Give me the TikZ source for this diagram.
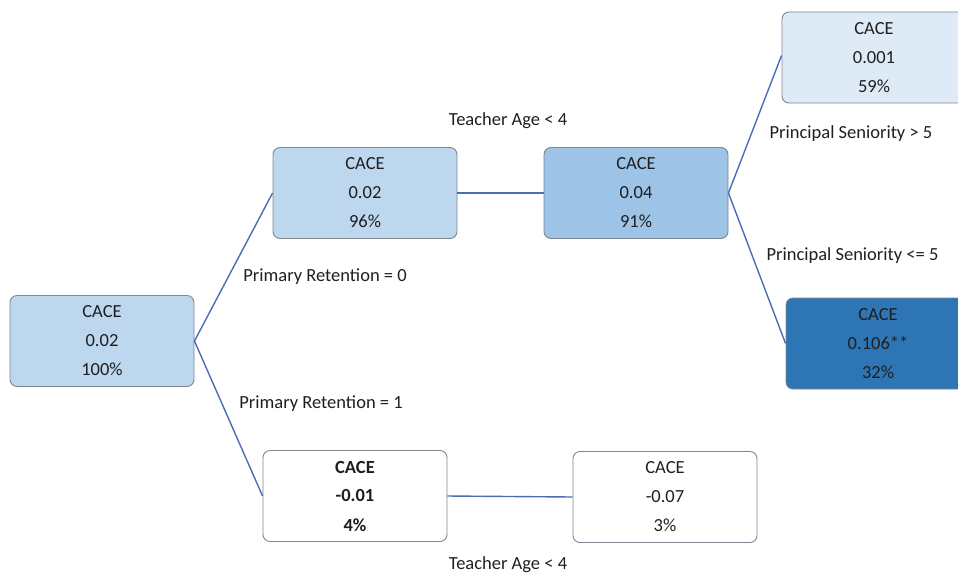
\documentclass[tikz,border=0pt]{standalone}
\usepackage{fontspec}
\setmainfont{Carlito}
\definecolor{txt}{HTML}{1F1F1F}
\definecolor{edgeblue}{HTML}{4A6DB5}
\definecolor{boxline}{HTML}{7F8590}
\definecolor{fillA}{HTML}{BDD7EE}
\definecolor{fillB}{HTML}{9DC3E6}
\definecolor{fillC}{HTML}{DEEBF7}
\definecolor{fillD}{HTML}{2E75B6}
\begin{document}
\begin{tikzpicture}[x=1pt,y=-1pt,
  box/.style={draw=boxline, line width=0.9pt, rounded corners=7pt, minimum width=184pt,
    minimum height=91pt, text=txt, align=center, font=\fontsize{18.5}{29}\selectfont, inner sep=0pt},
  lab/.style={text=txt, font=\fontsize{18.5}{20}\selectfont, inner sep=0pt},
  conn/.style={draw=edgeblue, line width=1.4pt}]
\useasboundingbox (0,0) rectangle (958,574);
\clip (0,0) rectangle (958,574);
\node[box, fill=fillA] (root) at (102,341) {CACE\\0.02\\100\%};
\node[box, fill=fillA] (n1) at (365,193) {CACE\\0.02\\96\%};
\node[box, fill=fillB] (n2) at (636,193) {CACE\\0.04\\91\%};
\node[box, fill=fillC] (n3) at (874,57.5) {CACE\\0.001\\59\%};
\node[box, fill=fillD] (n4) at (878,343.5) {CACE\\0.106**\\32\%};
\node[box, fill=white, font=\fontsize{18.5}{29}\selectfont\bfseries] (n5) at (355,496) {CACE\\-0.01\\4\%};
\node[box, fill=white] (n6) at (665,497) {CACE\\-0.07\\3\%};
\draw[conn] (root.east) -- (n1.west);
\draw[conn] (root.east) -- (n5.west);
\draw[conn] (n1.east) -- (n2.west);
\draw[conn] (n2.east) -- ([yshift=2pt]n3.west);
\draw[conn] (n2.east) -- (n4.west);
\draw[conn] (n5.east) -- (n6.west);
\node[lab] (l1) at (508,121) {Teacher Age < 4};
\node[lab] (l2) at (325,277) {Primary Retention = 0};
\node[lab] (l3) at (321,404) {Primary Retention = 1};
\node[lab] (l4) at (851,134) {Principal Seniority > 5};
\node[lab] (l5) at (852.5,256) {Principal Seniority <= 5};
\node[lab] (l6) at (508,565) {Teacher Age < 4};
\end{tikzpicture}
\end{document}
